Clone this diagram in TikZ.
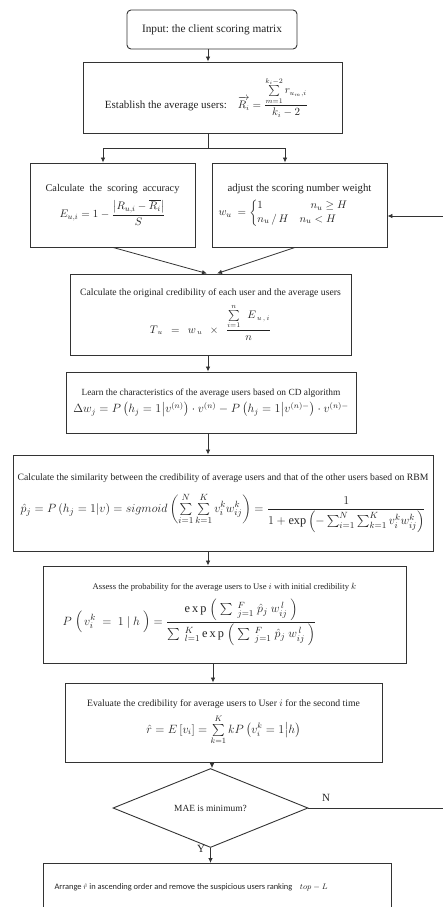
\documentclass[tikz,border=0pt]{standalone}
\usepackage{amsmath}
\usepackage{fontspec}
\setmainfont{Liberation Serif}
\newfontfamily\carl{Carlito}
\usetikzlibrary{arrows.meta,shapes.geometric}
\definecolor{linec}{HTML}{333333}
\definecolor{txtc}{HTML}{222222}
\tikzset{
  fbox/.style={draw=linec,line width=0.9pt,inner sep=2pt,align=center,text=txtc,
    font=\fontsize{8.5}{10}\selectfont},
  arr/.style={-{Latex[length=5pt,width=4.5pt]},draw=linec,line width=0.8pt},
  plain/.style={draw=linec,line width=0.8pt}
}
\newcommand{\fsz}[1]{\fontsize{#1}{#1}\selectfont}
\begin{document}
\begin{tikzpicture}[x=1pt,y=-1pt]
\useasboundingbox (0,0) rectangle (443,907);

\node[fbox,rounded corners=4pt,minimum width=170pt,minimum height=39pt] (in) at (212,29.5)
  {\fsz{11.3}Input:\ the client scoring matrix};

\node[fbox,minimum width=259pt,minimum height=71pt] (avg) at (212.5,97.5)
  {\fsz{11}Establish the average users:\quad
   \fsz{10.5}$\overrightarrow{R_i}=\dfrac{\sum\limits_{m=1}^{k_i-2} r_{u_m,i}}{k_i-2}$\hspace*{12pt}};

\node[fbox,minimum width=165pt,minimum height=84pt] (acc) at (112.5,205)
  {\fsz{10.3}Calculate\ \ the\ \ scoring\ \ accuracy\\[5pt]
   \fsz{11}$E_{u,i}=1-\dfrac{\left|R_{u,i}-\overline{R_i}\right|}{S}$};

\node[fbox,minimum width=175pt,minimum height=84pt] (wt) at (299.5,205)
  {\fsz{10.8}adjust the scoring number weight\\[5pt]
   \fsz{11}$w_u\ =\begin{cases}1 & \quad n_u\ge H\\ n_u\,/\,H & n_u<H\end{cases}$\hspace*{32pt}};

\node[fbox,minimum width=281pt,minimum height=81pt] (cred) at (210.5,314.5)
  {\fsz{9.7}Calculate the original credibility of each user and the average users\\[6pt]
   \fsz{10.5}$T_{\,u}\ \ =\ \ w_{\,u}\ \ \times\ \ \dfrac{\sum\limits_{i=1}^{n}\ \ E_{\,u\,,\,i}}{n}$};

\node[fbox,minimum width=290pt,minimum height=61pt] (cd) at (211,402.5)
  {\fsz{9.4}Learn the characteristics of the average users based on CD algorithm\\[4pt]
   \fsz{11.5}$\Delta w_j=P\left(h_j=1\middle|v^{(n)}\right)\cdot v^{(n)}-P\left(h_j=1\middle|v^{(n)-}\right)\cdot v^{(n)-}$};

\node[fbox,minimum width=420pt,minimum height=96pt] (sim) at (223,503)
  {\fsz{9.7}Calculate the similarity between the credibility of average users and that of the other users based on RBM\\[10pt]
   \fsz{12.3}$\hat{p}_j=P\left(h_j=1\middle|v\right)=sigmoid\left(\sum\limits_{i=1}^{N}\sum\limits_{k=1}^{K}v_i^k w_{ij}^k\right)=\dfrac{1}{1+\exp\left(-\sum_{i=1}^{N}\sum_{k=1}^{K}v_i^k w_{ij}^k\right)}$};

\node[fbox,minimum width=363pt,minimum height=97pt] (prob) at (224.5,614.5)
  {\fsz{8.6}Assess the probability for the average users to Use $i$ with initial credibility $k$\\[6pt]
   \fsz{12.3}$P\ \Bigl(\,v_i^k\ =\ 1\ |\ h\ \Bigr)=\dfrac{\mathrm{e\,x\,p}\ \Bigl(\ \sum\ ^{F}_{j=1}\ \hat{p}_j\ w_{ij}^{\,l}\ \Bigr)}{\sum\ ^{K}_{l=1}\,\mathrm{e\,x\,p}\ \Bigl(\ \sum\ ^{F}_{j=1}\ \hat{p}_j\ w_{ij}^{\,l}\ \Bigr)}$\hspace*{70pt}};

\node[fbox,minimum width=317pt,minimum height=79pt] (eval) at (223.5,722.5)
  {\fsz{9.7}Evaluate the credibility for average users to User $i$ for the second time\\[5pt]
   \fsz{11.5}$\hat{r}=E\left[v_i\right]=\sum\limits_{k=1}^{K}kP\left(v_i^k=1\middle|h\right)$};

\node[fbox,shape=diamond,inner sep=0pt,minimum width=195pt,minimum height=64pt] (mae) at (210.5,808)
  {\fsz{9.4}MAE is minimum?};

\node[fbox,minimum width=348pt,minimum height=52pt,anchor=north] (arr) at (217,863) {};
\node[text=txtc,font=\carl\fsz{8.4},anchor=west] (arrt) at (51,887)
  {Arrange $\hat{r}$ in ascending order and remove the suspicious users ranking\ \ \ \ $top-L$};

% connectors
\draw[arr] (in.south -| 208,0) -- (avg.north -| 208,0);
\coordinate (sp) at (208,148);
\draw[plain] (avg.south -| 208,0) -- (sp);
\draw[arr] (sp) -| (acc.north -| 103,0);
\draw[arr] (sp) -| (wt.north -| 285,0);
\coordinate (mL) at (207,273.5);
\coordinate (mR) at (217,273.5);
\draw[arr] (acc.south -| 113,0) -- (mL);
\draw[arr] (wt.south -| 295,0) -- (mR);
\draw[arr] (cred.south -| 208,0) -- (cd.north -| 208,0);
\draw[arr] (cd.south -| 208,0) -- (sim.north -| 208,0);
\draw[arr] (sim.south -| 208,0) -- (prob.north -| 208,0);
\draw[arr] (prob.south -| 213,0) -- (eval.north -| 213,0);
\draw[arr] (eval.south -| 212,0) -- (mae.north -| 212,0);
\draw[arr] (mae.south) -- (arr.north -| mae.south);
\coordinate (fb) at (447,808);
\coordinate (fbt) at (447,216);
\draw[plain] (mae.east) -- (fb) -- (fbt);
\draw[arr] (fbt) -- (wt.east |- fbt);
\node[text=txtc,font=\fsz{11}] (nl) at (326,798) {N};
\node[text=txtc,font=\fsz{11}] (yl) at (201,849) {Y};
\end{tikzpicture}
\end{document}
